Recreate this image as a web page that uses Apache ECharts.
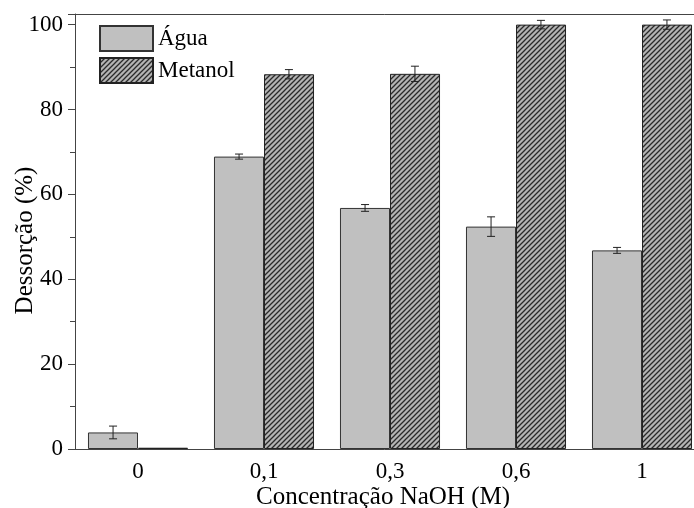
<!DOCTYPE html>
<html>
<head>
<meta charset="utf-8">
<script src="https://cdn.jsdelivr.net/npm/echarts@6/dist/echarts.min.js"></script>
<style>
  html, body { margin: 0; padding: 0; background: #fff; }
  #chart { width: 694px; height: 508px; }
</style>
</head>
<body>
<div id="chart"></div>
<script>
// dados
var categories = ['0', '0,1', '0,3', '0,6', '1'];
var aguaValues = [3.9, 68.9, 56.8, 52.4, 46.8];
var aguaErrors = [1.5, 0.6, 0.8, 2.3, 0.7];
var metanolValues = [0.3, 88.3, 88.4, 100, 100];
var metanolErrors = [0, 1.1, 1.8, 1.0, 1.1];
var yTicks = [0, 20, 40, 60, 80, 100];

var serif = 'Liberation Serif';

// padrão hachurado para o metanol
function hatchPattern() {
    var s = 5;
    var c = document.createElement('canvas');
    c.width = s; c.height = s;
    var ctx = c.getContext('2d');
    ctx.fillStyle = '#b4b4b4';
    ctx.fillRect(0, 0, s, s);
    ctx.strokeStyle = '#2a2a2a';
    ctx.lineWidth = 1.3;
    ctx.beginPath();
    ctx.moveTo(0, s); ctx.lineTo(s, 0);
    ctx.moveTo(-1, 1); ctx.lineTo(1, -1);
    ctx.moveTo(s - 1, s + 1); ctx.lineTo(s + 1, s - 1);
    ctx.stroke();
    return c;
}

function errorData(values, errors) {
    return values.map(function (v, i) { return [i, v, errors[i]]; });
}

function errorBar(offset) {
    return function (params, api) {
        var i = api.value(0), v = api.value(1), e = api.value(2);
        if (!e) return null;
        var band = api.size([1, 0])[0];
        var x = api.coord([i, v])[0] + offset * band;
        var top = api.coord([i, v + e])[1];
        var bot = api.coord([i, v - e])[1];
        var w = 4;
        var style = { stroke: '#222', lineWidth: 1 };
        return {
            type: 'group',
            children: [
                { type: 'line', shape: { x1: x, y1: top, x2: x, y2: bot }, style: style },
                { type: 'line', shape: { x1: x - w, y1: top, x2: x + w, y2: top }, style: style },
                { type: 'line', shape: { x1: x - w, y1: bot, x2: x + w, y2: bot }, style: style }
            ]
        };
    };
}

var chart = echarts.init(document.getElementById('chart'));
var axisLine = { show: true, lineStyle: { color: '#444', width: 1 } };

chart.setOption({
    animation: false,
    grid: { left: 75, width: 630, top: 14, bottom: 59, outerBoundsMode: 'none', containLabel: false },
    legend: {
        left: 94, top: 20, orient: 'vertical', icon: 'rect',
        itemWidth: 53, itemHeight: 25, itemGap: 5,
        textStyle: { fontFamily: serif, fontSize: 23, color: '#000' },
        data: ['Água', 'Metanol']
    },
    xAxis: [{
        type: 'category', data: categories, position: 'bottom',
        axisLine: axisLine,
        axisTick: { alignWithLabel: true, length: 8, lineStyle: { color: '#444' } },
        axisLabel: { fontFamily: serif, fontSize: 23, color: '#000', margin: 11 },
        name: 'Concentração NaOH (M)', nameLocation: 'middle', nameGap: 36, nameMoveOverlap: false,
        nameTextStyle: { fontFamily: serif, fontSize: 25, color: '#000', padding: [0, 14, 0, 0] }
    }, {
        type: 'category', data: categories, position: 'bottom',
        axisLine: { show: false },
        axisTick: { length: 4, lineStyle: { color: '#444' } },
        axisLabel: { show: false }
    }, {
        type: 'category', data: categories, position: 'top',
        axisLine: axisLine,
        axisTick: { alignWithLabel: true, inside: true, length: 4, lineStyle: { color: '#444' } },
        axisLabel: { show: false }
    }],
    yAxis: {
        type: 'value', min: yTicks[0], max: 102.5, interval: 20,
        axisLine: axisLine,
        axisTick: { show: true, length: 7, lineStyle: { color: '#444' } },
        minorTick: { show: true, splitNumber: 2, length: 5, lineStyle: { color: '#444' } },
        splitLine: { show: false },
        axisLabel: {
            fontFamily: serif, fontSize: 23, color: '#000', margin: 12, showMaxLabel: false,
            formatter: function (v) { return yTicks.indexOf(v) >= 0 ? String(v) : ''; }
        },
        name: 'Dessorção (%)', nameLocation: 'middle', nameGap: 37, nameMoveOverlap: false,
        nameTextStyle: { fontFamily: serif, fontSize: 25, color: '#000', padding: [0, 0, 0, -18] }
    },
    series: [{
        name: 'Água', type: 'bar', data: aguaValues,
        barWidth: '39.7%', barGap: '0%',
        itemStyle: { color: '#c0c0c0', borderColor: '#333', borderWidth: 1 }
    }, {
        name: 'Metanol', type: 'bar', data: metanolValues,
        barWidth: '39.7%', barGap: '0%',
        itemStyle: { color: { image: hatchPattern(), repeat: 'repeat' }, borderColor: '#222', borderWidth: 1 }
    }, {
        type: 'custom', renderItem: errorBar(-0.198), z: 10,
        data: errorData(aguaValues, aguaErrors)
    }, {
        type: 'custom', renderItem: errorBar(0.198), z: 10,
        data: errorData(metanolValues, metanolErrors)
    }]
});
</script>
</body>
</html>
